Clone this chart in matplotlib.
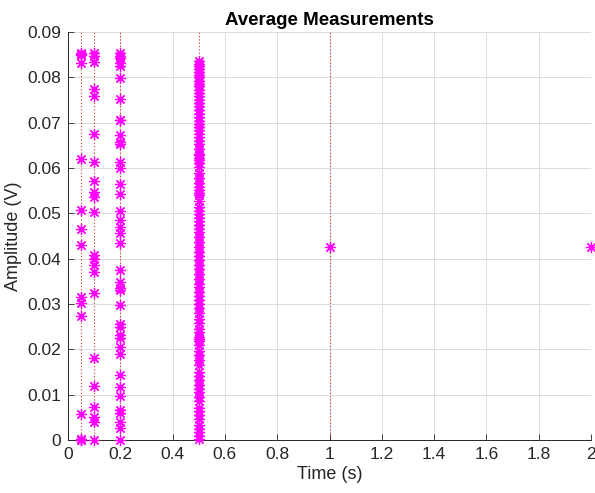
import matplotlib
matplotlib.use("Agg")
import matplotlib.pyplot as plt

plt.rcParams['font.family'] = ['Liberation Sans', 'DejaVu Sans']

# sampling periods (s) and the averaged amplitudes measured at each
periods = [0.05, 0.1, 0.2, 0.5, 1.0, 2.0]

amp_005 = [0.0853, 0.0850, 0.0852, 0.0831, 0.0621, 0.0507, 0.0465, 0.0430,
           0.0315, 0.0303, 0.0274, 0.0057, 0.0003, 0.0001, 0.0]
amp_01 = [0.0853, 0.0848, 0.0834, 0.0774, 0.0759, 0.0675, 0.0614, 0.0571,
          0.0548, 0.0537, 0.0504, 0.0408, 0.0399, 0.0386, 0.0371, 0.0324,
          0.0180, 0.0120, 0.0073, 0.0051, 0.0040, 0.0]
amp_02 = [0.0853, 0.0848, 0.0842, 0.0832, 0.0824, 0.0798, 0.0752, 0.0707,
          0.0705, 0.0673, 0.0658, 0.0653, 0.0614, 0.0599, 0.0564, 0.0543,
          0.0506, 0.0485, 0.0471, 0.0456, 0.0434, 0.0375, 0.0349, 0.0335,
          0.0331, 0.0298, 0.0257, 0.0250, 0.0232, 0.0224, 0.0206, 0.0189,
          0.0143, 0.0118, 0.0098, 0.0066, 0.0060, 0.0040, 0.0026, 0.0]
amp_05 = [0.0836, 0.0830, 0.0825, 0.0819, 0.0812, 0.0806, 0.0800, 0.0792,
          0.0786, 0.0780, 0.0772, 0.0765, 0.0758, 0.0750, 0.0744, 0.0737,
          0.0728, 0.0720, 0.0712, 0.0703, 0.0697, 0.0690, 0.0684, 0.0676,
          0.0668, 0.0660, 0.0652, 0.0641, 0.0632, 0.0628, 0.0622, 0.0617,
          0.0610, 0.0602, 0.0590, 0.0578, 0.0566, 0.0558, 0.0552, 0.0546,
          0.0540, 0.0528, 0.0515, 0.0505, 0.0498, 0.0490, 0.0483, 0.0474,
          0.0466, 0.0458, 0.0447, 0.0436, 0.0425, 0.0415, 0.0407, 0.0398,
          0.0385, 0.0378, 0.0366, 0.0356, 0.0344, 0.0337, 0.0327, 0.0318,
          0.0308, 0.0299, 0.0291, 0.0281, 0.0268, 0.0258, 0.0245, 0.0238,
          0.0228, 0.0222, 0.0218, 0.0210, 0.0197, 0.0188, 0.0176, 0.0165,
          0.0151, 0.0142, 0.0133, 0.0121, 0.0113, 0.0106, 0.0094, 0.0085,
          0.0071, 0.0063, 0.0056, 0.0046, 0.0033, 0.0025, 0.0018, 0.0008,
          0.0003]
amp_1 = [0.0426]
amp_2 = [0.0426]

amplitudes = [amp_005, amp_01, amp_02, amp_05, amp_1, amp_2]

xticks = [0, 0.2, 0.4, 0.6, 0.8, 1, 1.2, 1.4, 1.6, 1.8, 2]
xtick_labels = ['0', '0.2', '0.4', '0.6', '0.8', '1', '1.2', '1.4', '1.6', '1.8', '2']
yticks = [0, 0.01, 0.02, 0.03, 0.04, 0.05, 0.06, 0.07, 0.08, 0.09]
ytick_labels = ['0', '0.01', '0.02', '0.03', '0.04', '0.05', '0.06', '0.07', '0.08', '0.09']

fig = plt.figure(figsize=(5.95, 4.93), dpi=100)
ax = fig.add_axes([0.1143, 0.1075, 0.8790, 0.8275])

for t in periods:
    ax.axvline(t, color='#d03030', linestyle=(0, (1, 2)), linewidth=0.8, zorder=1)

# eight-spoke asterisk markers
for t, amps in zip(periods, amplitudes):
    ax.plot([t] * len(amps), amps, linestyle='none', marker=(8, 2, 0),
            color='#ff00ff', markersize=8, markeredgewidth=0.9,
            clip_on=False, zorder=3)

ax.set_xlim(0, 2)
ax.set_ylim(0, 0.09)
ax.set_xticks(xticks)
ax.set_xticklabels(xtick_labels)
ax.set_yticks(yticks)
ax.set_yticklabels(ytick_labels)
ax.tick_params(direction='in', labelsize=12.5, colors='#262626', length=4,
               width=0.6, pad=5)
ax.grid(True, color='#dcdcdc', linewidth=0.7)
ax.set_axisbelow(True)
for side in ('top', 'right'):
    ax.spines[side].set_visible(False)
for side in ('left', 'bottom'):
    ax.spines[side].set_color('#262626')
    ax.spines[side].set_linewidth(0.7)

ax.set_xlabel('Time (s)', fontsize=13, color='#262626', labelpad=3)
ax.set_ylabel('Amplitude (V)', fontsize=13, color='#262626', labelpad=4)
ax.set_title('Average Measurements', fontsize=13.5, fontweight='bold', pad=5)

fig.savefig('out.png', dpi=100, facecolor='white')
